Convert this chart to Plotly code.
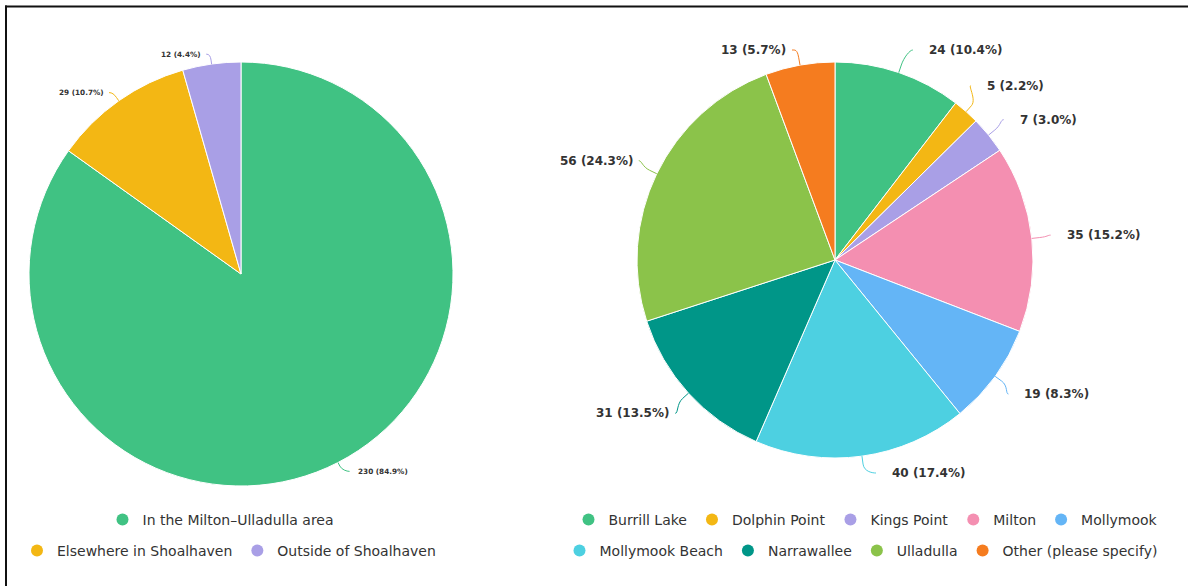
import math
import plotly.graph_objects as go

# ---------------- data ----------------
left_labels = ["In the Milton–Ulladulla area", "Elsewhere in Shoalhaven", "Outside of Shoalhaven"]
left_values = [230, 29, 12]
left_colors = ["#40C283", "#F3B714", "#A99FE6"]

right_labels = ["Burrill Lake", "Dolphin Point", "Kings Point", "Milton", "Mollymook",
                "Mollymook Beach", "Narrawallee", "Ulladulla", "Other (please specify)"]
right_values = [24, 5, 7, 35, 19, 40, 31, 56, 13]
right_colors = ["#40C283", "#F3B714", "#A99FE6", "#F48FB1", "#64B5F6",
                "#4DD0E1", "#009688", "#8BC34A", "#F57C1F"]

# ---------------- layout config (pixels) ----------------
W, H = 1188, 586
LEFT = dict(cx=241, cy=274, r=212, dist=10, top=40, bottom=580, gap=14,
            pad_r=14, pad_l=8, cgap_r=7, cgap_l=4, off=4, lim=0, font=7.3)
RIGHT = dict(cx=835, cy=260, r=198, dist=30, top=50, bottom=473, gap=34,
             pad_r=4, pad_l=-4, cgap_r=15, cgap_l=5, off=8, lim=6, font=12)
LABEL_COLOR = "#333333"
FONT = "DejaVu Sans"

# legend rows: (legend id, series, indices, centre x px, centre y px)
LEGEND_ROWS = [
    ("legend", "left", [0], 221, 520),
    ("legend2", "left", [1, 2], 229, 551),
    ("legend3", "right", [0, 1, 2, 3, 4], 866, 520),
    ("legend4", "right", [5, 6, 7, 8], 861, 551),
]


def pie_domain(cfg):
    cx, cy, r = cfg["cx"], cfg["cy"], cfg["r"]
    return dict(x=[(cx - r) / W, (cx + r) / W], y=[1 - (cy + r) / H, 1 - (cy - r) / H])


def label_layout(values, colors, cfg):
    """Highcharts-like outside data labels with soft connectors, derived from values."""
    total = float(sum(values))
    cx, cy, r = cfg["cx"], cfg["cy"], cfg["r"]
    R = r + cfg["dist"]
    items = []
    cum = 0.0
    for i, v in enumerate(values):
        a = (cum + v / 2.0) / total * 2 * math.pi
        cum += v
        s, c = math.sin(a), math.cos(a)
        items.append(dict(i=i, v=v, s=s, c=c, ny=cy - R * c, side=1 if s >= 0 else -1))
    # distribute vertically per half
    for side in (1, -1):
        grp = sorted([it for it in items if it["side"] == side], key=lambda it: it["ny"])
        ys = [min(max(it["ny"], cfg["top"]), cfg["bottom"]) for it in grp]
        for _ in range(100):
            moved = False
            for k in range(len(ys) - 1):
                d = ys[k + 1] - ys[k]
                if d < cfg["gap"]:
                    sh = (cfg["gap"] - d) / 2.0
                    ys[k] -= sh
                    ys[k + 1] += sh
                    moved = True
            ys = [min(max(y, cfg["top"]), cfg["bottom"]) for y in ys]
            if not moved:
                break
        for it, y in zip(grp, ys):
            it["y"] = y
    annotations, shapes = [], []
    for it in items:
        side = it["side"]
        ndy = it["ny"] - cy
        if cfg["lim"] and abs(ndy) > R - cfg["lim"]:
            dy = math.copysign(R - cfg["lim"], ndy)
        else:
            dy = max(-R, min(R, it["y"] - cy))
        ax = cx + side * math.sqrt(max(R * R - dy * dy, 0))
        y = it["y"]
        if side > 0:
            tx = ax + cfg["pad_r"]
            sx = tx - cfg["cgap_r"]
            anchor = "left"
        else:
            tx = ax - cfg["pad_l"]
            sx = tx + cfg["cgap_l"]
            anchor = "right"
        pct = it["v"] / total * 100
        annotations.append(dict(
            x=tx, y=y, xref="x", yref="y", text=f"{it['v']} ({pct:.1f}%)",
            showarrow=False, xanchor=anchor, yanchor="middle",
            font=dict(family=FONT, size=cfg["font"], color=LABEL_COLOR, weight="bold"),
            borderpad=0,
        ))
        ex, ey = cx + r * it["s"], cy - r * it["c"]
        bx, by = cx + (r + cfg["off"]) * it["s"], cy - (r + cfg["off"]) * it["c"]
        c2x, c2y = 2 * bx - ex, 2 * by - ey
        c1x = sx - side * 3
        path = (f"M {sx:.2f},{y:.2f} C {c1x:.2f},{y:.2f} {c2x:.2f},{c2y:.2f} "
                f"{bx:.2f},{by:.2f} L {ex:.2f},{ey:.2f}")
        shapes.append(dict(type="path", path=path, xref="x", yref="y",
                           line=dict(color=colors[it["i"]], width=1), layer="above"))
    return annotations, shapes


fig = go.Figure()

fig.add_trace(go.Pie(
    values=left_values, labels=left_labels, sort=False, direction="clockwise", rotation=0,
    marker=dict(colors=left_colors, line=dict(color="#FFFFFF", width=1)),
    textinfo="none", showlegend=False, domain=pie_domain(LEFT), hoverinfo="label+value+percent",
))
fig.add_trace(go.Pie(
    values=right_values, labels=right_labels, sort=False, direction="clockwise", rotation=0,
    marker=dict(colors=right_colors, line=dict(color="#FFFFFF", width=1)),
    textinfo="none", showlegend=False, domain=pie_domain(RIGHT), hoverinfo="label+value+percent",
))

series = {"left": (left_labels, left_colors), "right": (right_labels, right_colors)}
legend_layouts = {}
for lid, sname, idxs, lx, ly in LEGEND_ROWS:
    labs, cols = series[sname]
    for i in idxs:
        fig.add_trace(go.Scatter(
            x=[None], y=[None], mode="markers", name=labs[i], legend=lid,
            marker=dict(color=cols[i], size=12, symbol="circle"), showlegend=True,
            hoverinfo="skip",
        ))
    legend_layouts[lid] = dict(
        orientation="h", x=lx / W, y=1 - ly / H, xanchor="center", yanchor="middle",
        font=dict(family=FONT, size=14, color="#333333"), bgcolor="rgba(0,0,0,0)",
        borderwidth=0, itemsizing="constant",
    )

ann_l, shp_l = label_layout(left_values, left_colors, LEFT)
ann_r, shp_r = label_layout(right_values, right_colors, RIGHT)

border = [
    dict(type="line", xref="x", yref="y", x0=5, y0=6.5, x1=W, y1=6.5,
         line=dict(color="#111111", width=2)),
    dict(type="line", xref="x", yref="y", x0=6, y0=5.5, x1=6, y1=H,
         line=dict(color="#111111", width=2)),
]

fig.update_layout(
    width=W, height=H, margin=dict(l=0, r=0, t=0, b=0),
    paper_bgcolor="white", plot_bgcolor="white",
    xaxis=dict(range=[0, W], visible=False, fixedrange=True, domain=[0, 1]),
    yaxis=dict(range=[H, 0], visible=False, fixedrange=True, domain=[0, 1]),
    annotations=ann_l + ann_r,
    shapes=shp_l + shp_r + border,
    **legend_layouts,
)

fig.write_html("out.html")
